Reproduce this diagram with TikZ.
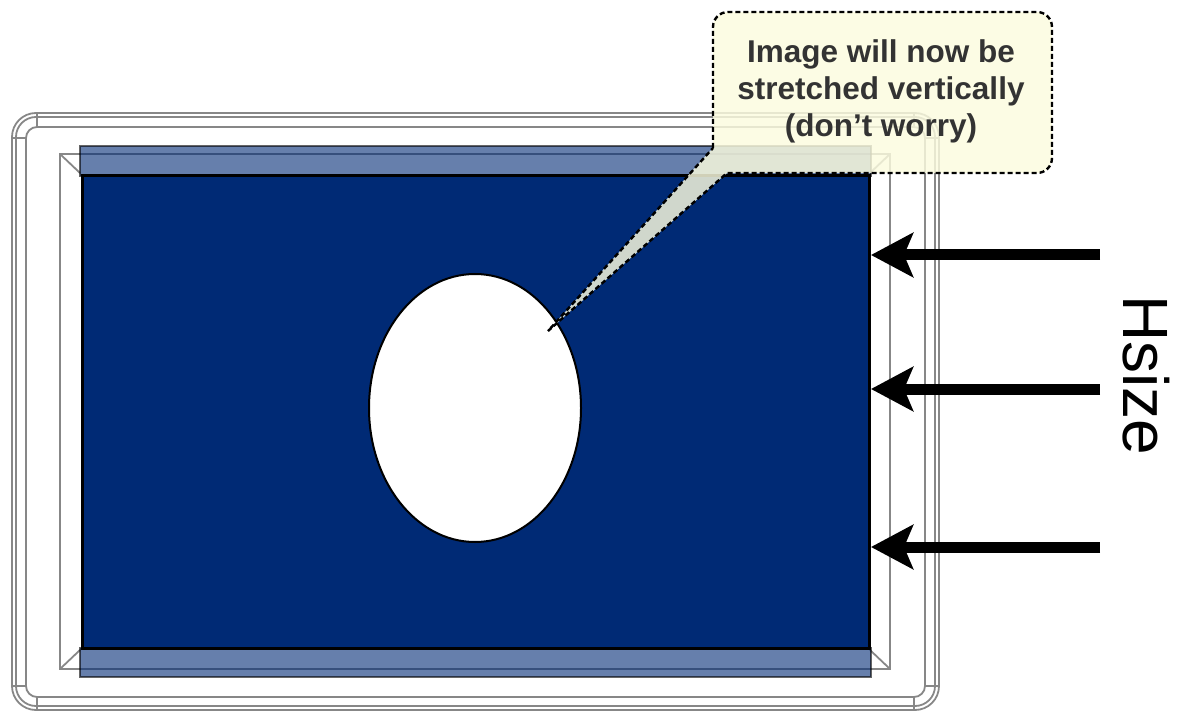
\documentclass[tikz,border=0pt]{standalone}
\usepackage{fontspec}
\setmainfont{Liberation Sans}
\usetikzlibrary{arrows.meta}
\definecolor{navy}{RGB}{0,42,117}
\definecolor{frameg}{RGB}{135,135,135}
\definecolor{notefill}{RGB}{251,251,222}
\definecolor{notetext}{RGB}{51,51,51}
\begin{document}
\begin{tikzpicture}[x=1pt,y=-1pt,
  frameline/.style={draw=frameg, line width=1.8pt},
  barstyle/.style={fill=navy, fill opacity=0.6, draw=black, draw opacity=0.6, line width=2pt},
  imgstyle/.style={fill=navy, draw=black, line width=3pt},
  bigarrow/.style={line width=11pt, -{Stealth[length=42pt,width=44pt,inset=9pt]}},
  calloutstyle/.style={fill=notefill, fill opacity=0.83, draw=black, line width=2.4pt, dash pattern=on 5pt off 3pt},
  notefont/.style={text=notetext, font=\bfseries\fontsize{31.5}{37}\selectfont, align=center},
  labelfont/.style={font=\fontsize{64}{64}\selectfont, inner sep=0pt}
]
\useasboundingbox (0,0) rectangle (1186,711);
% outer frames
\draw[frameline, rounded corners=24pt] (12,113) rectangle (939,710);
\draw[frameline, rounded corners=20pt] (16,117) rectangle (935,706);
\draw[frameline, rounded corners=11pt] (26,127) rectangle (925,697);
% seams
\draw[frameline] (12,138) -- (26,138) (37,113) -- (37,127)
  (925,138) -- (939,138) (914,113) -- (914,127)
  (12,686) -- (26,686) (37,697) -- (37,710)
  (925,686) -- (939,686) (914,697) -- (914,710);
% bevel frame
\draw[frameline] (60,154) rectangle (890,669);
\draw[frameline] (60,154) -- (80,173) (890,154) -- (870,173)
  (60,669) -- (80,650) (890,669) -- (870,650);
% bars
\path[barstyle] (80,146) rectangle (871,176);
\path[barstyle] (80,648) rectangle (871,677);
% image
\path[imgstyle] (82,176) rectangle (869,648);
\draw[fill=white, line width=2pt] (475,408) ellipse [x radius=106, y radius=134];
% arrows
\coordinate (s1) at (1100,255); \coordinate (t1) at (871,255);
\coordinate (s2) at (1100,389); \coordinate (t2) at (871,389);
\coordinate (s3) at (1100,547); \coordinate (t3) at (871,547);
\draw[bigarrow] (s1) -- (t1);
\draw[bigarrow] (s2) -- (t2);
\draw[bigarrow] (s3) -- (t3);
\node[labelfont, rotate=-90, anchor=base west] (hsize) at (1123,295) {Hsize};
% callout
\path[calloutstyle] (713,148) -- (713,27) .. controls (713,18.7) and (719.7,12) .. (728,12)
  -- (1037,12) .. controls (1045.3,12) and (1052,18.7) .. (1052,27)
  -- (1052,158) .. controls (1052,166.3) and (1045.3,173) .. (1037,173)
  -- (727,173) -- (548,331) -- cycle;
\node[notefont] (note) at (881,91) {Image will now be\\stretched vertically\\(don’t worry)};
\end{tikzpicture}
\end{document}
